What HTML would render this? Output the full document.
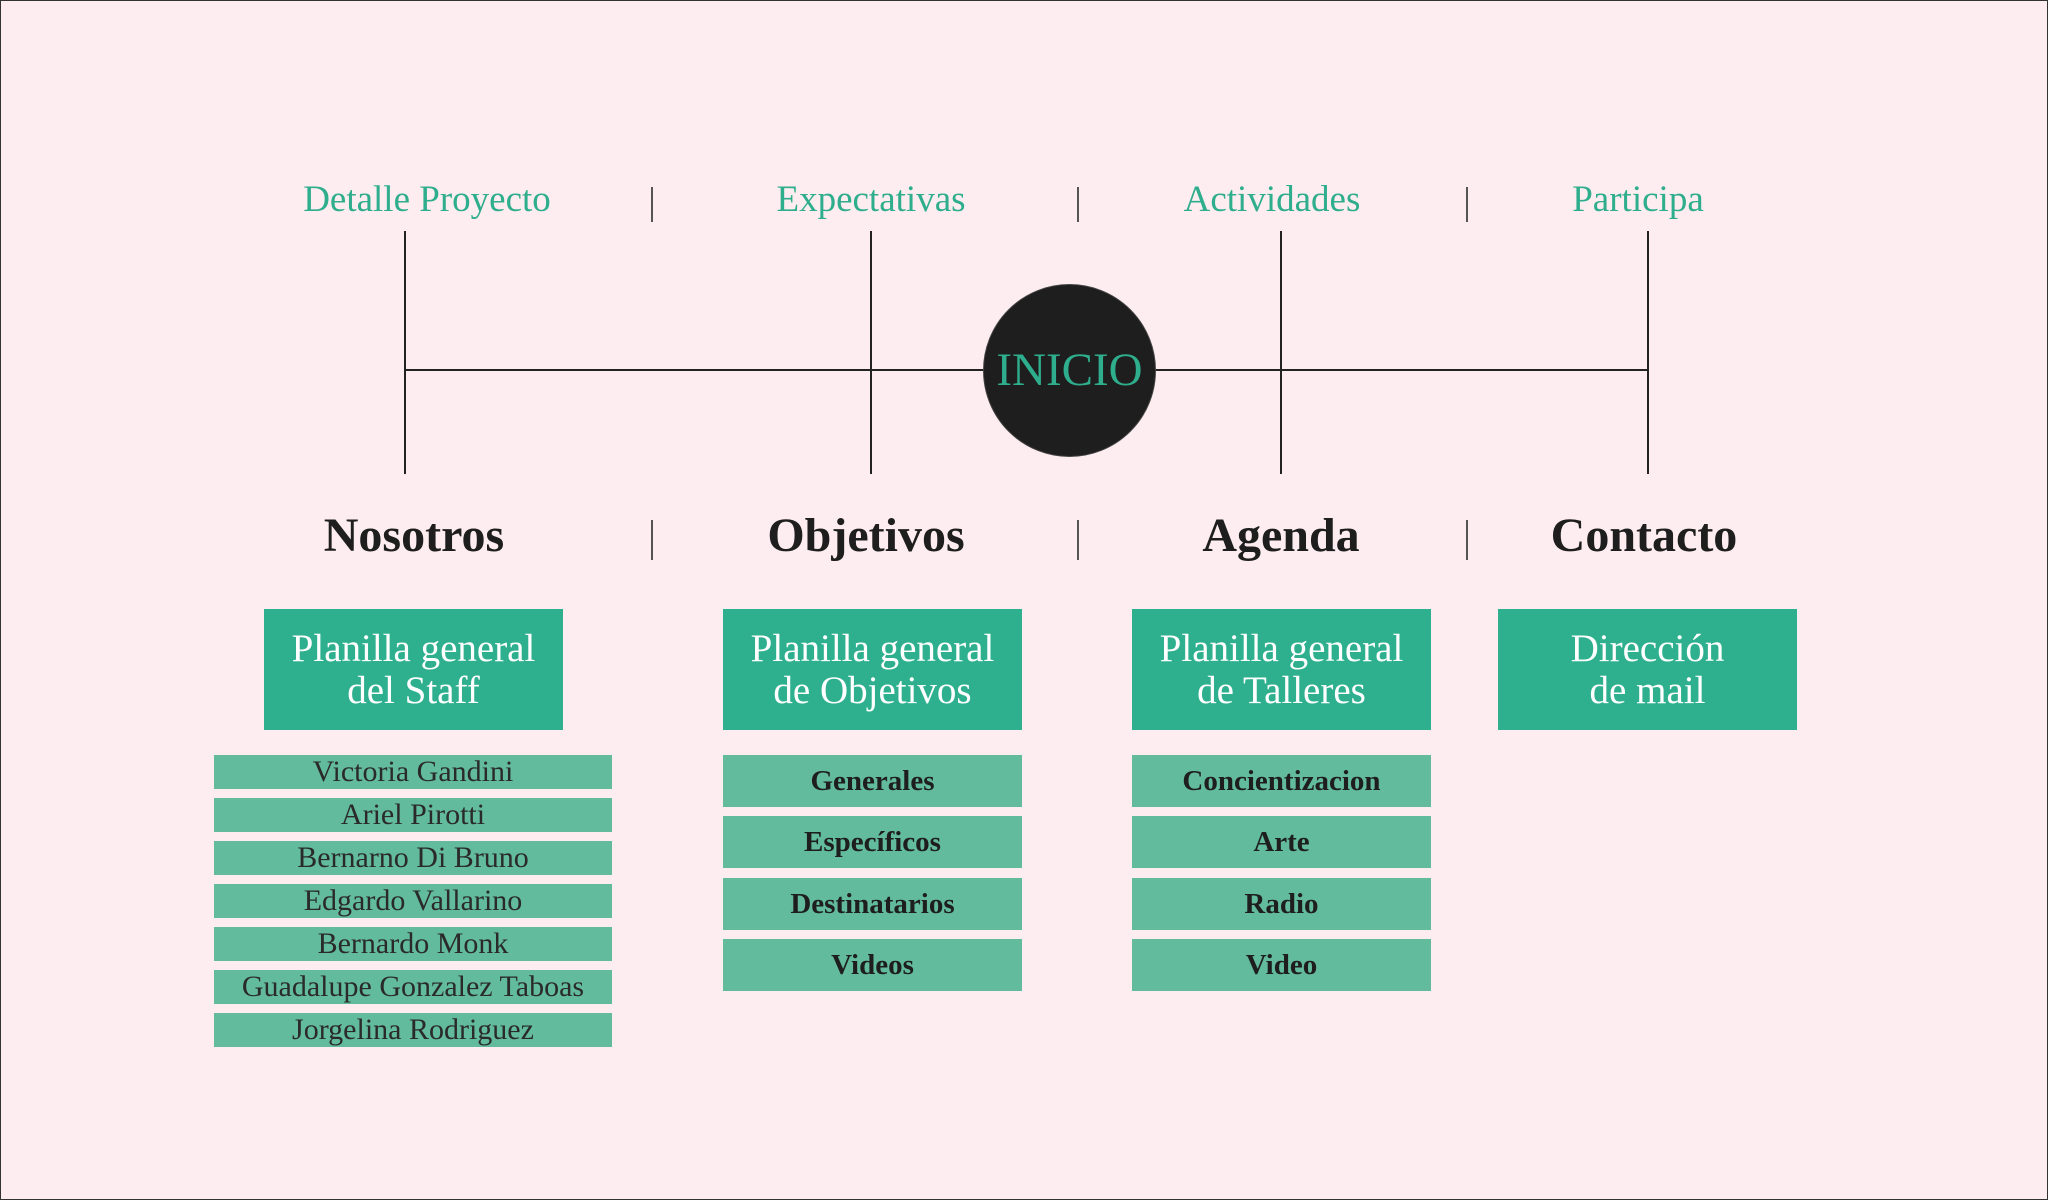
<!DOCTYPE html>
<html><head><meta charset="utf-8"><style>
*{margin:0;padding:0;box-sizing:border-box}
body{width:2048px;height:1200px;background:#fdedf0;position:relative;overflow:hidden;font-family:"Liberation Serif",serif}
#frame{position:absolute;left:0;top:0;width:2048px;height:1200px;border:1px solid #333}
.a{position:absolute}
.t{position:absolute;text-align:center;white-space:nowrap}
.top{color:#2eae8c;font-size:37px;top:178px;width:400px}
.h{color:#1e1e1e;font-size:48px;font-weight:bold;top:508px;width:400px}
.v{position:absolute;width:2px;background:#222}
.s{position:absolute;width:1.5px;background:#555}
.big{position:absolute;background:#2eb08f;color:#fff;font-size:39px;line-height:42px;text-align:center;display:flex;align-items:center;justify-content:center;top:609px;width:299px;height:121px}
.st{position:absolute;left:214px;width:398px;height:34px;background:#62bb9c;color:#2a2a2a;font-size:30px;line-height:34px;text-align:center;white-space:nowrap}
.ob{position:absolute;width:299px;height:52px;background:#62bb9c;color:#1e1e1e;font-size:29px;font-weight:bold;line-height:52px;text-align:center}
</style></head><body>
<div id="frame"></div>
<div class="t top" style="left:227px">Detalle Proyecto</div>
<div class="t top" style="left:671px">Expectativas</div>
<div class="t top" style="left:1072px">Actividades</div>
<div class="t top" style="left:1438px">Participa</div>
<div class="s" style="left:651px;top:187px;height:35px"></div>
<div class="s" style="left:1077px;top:187px;height:35px"></div>
<div class="s" style="left:1466px;top:187px;height:35px"></div>
<div class="s" style="left:651px;top:520px;height:40px"></div>
<div class="s" style="left:1077px;top:520px;height:40px"></div>
<div class="s" style="left:1466px;top:520px;height:40px"></div>
<div class="v" style="left:404px;top:231px;height:243px"></div>
<div class="v" style="left:870px;top:231px;height:243px"></div>
<div class="v" style="left:1280px;top:231px;height:243px"></div>
<div class="v" style="left:1647px;top:231px;height:243px"></div>
<div class="a" style="left:404px;top:369px;width:1245px;height:2px;background:#222"></div>
<div class="a" style="left:983px;top:284px;width:173px;height:173px;border-radius:50%;background:#1e1e1e;border:1px solid #444;color:#2eae8c;font-size:47px;line-height:171px;text-align:center">INICIO</div>
<div class="t h" style="left:214px">Nosotros</div>
<div class="t h" style="left:666px">Objetivos</div>
<div class="t h" style="left:1081px">Agenda</div>
<div class="t h" style="left:1444px">Contacto</div>
<div class="big" style="left:264px">Planilla general<br>del Staff</div>
<div class="big" style="left:723px">Planilla general<br>de Objetivos</div>
<div class="big" style="left:1132px">Planilla general<br>de Talleres</div>
<div class="big" style="left:1498px">Dirección<br>de mail</div>
<div class="st" style="top:755px">Victoria Gandini</div>
<div class="st" style="top:798px">Ariel Pirotti</div>
<div class="st" style="top:841px">Bernarno Di Bruno</div>
<div class="st" style="top:884px">Edgardo Vallarino</div>
<div class="st" style="top:927px">Bernardo Monk</div>
<div class="st" style="top:970px">Guadalupe Gonzalez Taboas</div>
<div class="st" style="top:1013px">Jorgelina Rodriguez</div>
<div class="ob" style="left:723px;top:755px">Generales</div>
<div class="ob" style="left:723px;top:816px">Específicos</div>
<div class="ob" style="left:723px;top:878px">Destinatarios</div>
<div class="ob" style="left:723px;top:939px">Videos</div>
<div class="ob" style="left:1132px;top:755px">Concientizacion</div>
<div class="ob" style="left:1132px;top:816px">Arte</div>
<div class="ob" style="left:1132px;top:878px">Radio</div>
<div class="ob" style="left:1132px;top:939px">Video</div>
</body></html>
